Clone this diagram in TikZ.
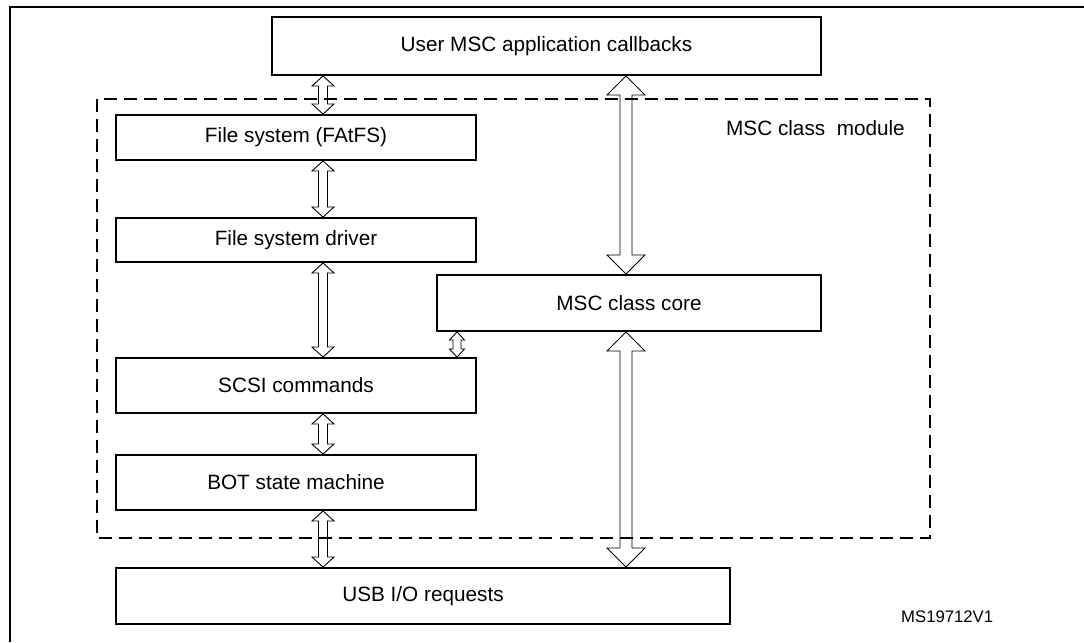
\documentclass[tikz,border=0pt]{standalone}
\usepackage{fontspec}
\setmainfont{Liberation Sans}
\usetikzlibrary{calc}
\def\dblarrow[#1](#2)(#3)(#4:#5:#6){\draw[#1] let \p1=(#2), \p2=(#3) in (\x1,\y1) -- (\x1+#5,\y1-#6) -- (\x1+#4,\y1-#6) -- (\x1+#4,\y2+#6) -- (\x1+#5,\y2+#6) -- (\x1,\y2) -- (\x1-#5,\y2+#6) -- (\x1-#4,\y2+#6) -- (\x1-#4,\y1-#6) -- (\x1-#5,\y1-#6) -- cycle;}
\tikzset{
	blk/.style={draw, line width=1.1pt, inner sep=0pt, font=\fontsize{11.8}{14}\selectfont},
	modframe/.style={line width=1.2pt, dash pattern=on 7.4pt off 4pt},
	arr/.style={line width=0.5pt}
}

\begin{document}
\begin{tikzpicture}
			%%%%% START %%%%%
			\useasboundingbox (0, 0) rectangle (21.68, -12.84);
			
			\draw[line width=1.4pt] (0.2, -12.84) -- (0.2, -0.14) -- (21.68, -0.14);
			
			\node[blk, minimum width=10.98cm, minimum height=1.16cm] (user) at (10.93, -0.92) {User MSC application callbacks};
			
			\node[blk, minimum width=7.2cm, minimum height=0.9cm] (fs) at (5.92, -2.75) {File system (FAtFS)};
			\node[blk, minimum width=7.2cm, minimum height=0.88cm] (drv) at (5.92, -4.8) {File system driver};
			\node[blk, minimum width=7.68cm, minimum height=1.12cm] (core) at (12.58, -6.06) {MSC class core};
			\node[blk, minimum width=7.2cm, minimum height=1.1cm] (scsi) at (5.92, -7.71) {SCSI commands};
			\node[blk, minimum width=7.2cm, minimum height=1.1cm] (bot) at (5.92, -9.65) {BOT state machine};
			\node[blk, minimum width=12.28cm, minimum height=1.12cm] (usb) at (8.46, -11.92) {USB I/O requests};
			
			\draw[modframe] (1.94, -1.98) rectangle (18.6, -10.76);
			\node[anchor=east, font=\fontsize{11.8}{14}\selectfont] (modlbl) at (18.22, -2.56) {MSC class\ \ module};
			
			\coordinate (lcol) at (6.46, 0);
			\coordinate (mcol) at (9.14, 0);
			\coordinate (rcol) at (12.52, 0);
			
			\dblarrow[arr](user.south -| lcol)(fs.north -| lcol)(0.09cm:0.22cm:0.2cm)
			\dblarrow[arr](fs.south -| lcol)(drv.north -| lcol)(0.09cm:0.22cm:0.2cm)
			\dblarrow[arr](drv.south -| lcol)(scsi.north -| lcol)(0.09cm:0.22cm:0.2cm)
			\dblarrow[arr](scsi.south -| lcol)(bot.north -| lcol)(0.09cm:0.22cm:0.2cm)
			\dblarrow[arr](bot.south -| lcol)(usb.north -| lcol)(0.09cm:0.22cm:0.2cm)
			\dblarrow[arr](core.south -| mcol)(scsi.north -| mcol)(0.08cm:0.15cm:0.16cm)
			\dblarrow[arr](user.south -| rcol)(core.north -| rcol)(0.12cm:0.38cm:0.38cm)
			\dblarrow[arr](core.south -| rcol)(usb.north -| rcol)(0.12cm:0.38cm:0.38cm)
			
			\node[anchor=west, font=\fontsize{9.5}{11}\selectfont] (code) at (17.9, -12.34) {MS19712V1};
			%%%%% END %%%%%
\end{tikzpicture}
\end{document}
